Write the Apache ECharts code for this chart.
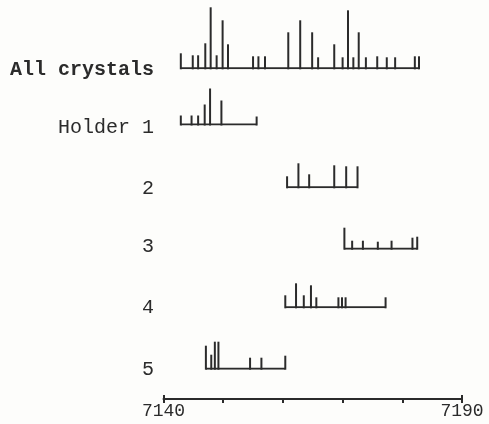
<!DOCTYPE html>
<html><head><meta charset="utf-8">
<script src="https://cdn.jsdelivr.net/npm/echarts@6/dist/echarts.min.js"></script>
<style>html,body{margin:0;padding:0;background:#fdfdfb}#c{width:489px;height:424px}</style>
</head><body><div id="c"></div><script>
// ---- data (wavelength, relative line height) ----
const rowLabels = ['All crystals', 'Holder 1', '2', '3', '4', '5'];
const allCrystals = [[7142.9,15],[7144.9,13],[7145.8,13],[7147.0,25],[7147.9,61],[7148.9,13],[7149.9,48],[7150.8,24],[7155.0,12],[7155.9,12],[7157.0,12],[7160.9,36],[7162.9,48],[7164.9,36],[7165.9,11],[7168.6,24],[7170.0,11],[7170.9,58],[7171.8,11],[7172.7,36],[7173.9,11],[7175.8,12],[7177.4,11],[7178.8,11],[7182.1,12],[7182.8,12]];
const holder1 = [[7142.9,9],[7144.7,9],[7145.8,9],[7146.9,20],[7147.8,36],[7149.7,24],[7155.6,8]];
const holder2 = [[7160.7,11],[7162.6,24],[7164.4,13],[7168.6,22],[7170.6,21],[7172.5,21]];
const holder3 = [[7170.3,21],[7171.6,8],[7173.4,8],[7175.9,7],[7178.2,8],[7181.7,11],[7182.5,12]];
const holder4 = [[7160.4,12],[7162.2,24],[7163.5,12],[7164.7,22],[7165.6,10],[7169.3,10],[7169.9,10],[7170.5,10],[7177.2,10]];
const holder5 = [[7147.1,23],[7148.0,14],[7148.6,27],[7149.2,27],[7154.5,11],[7156.4,11],[7160.4,13]];
const xMin = 7140, xMax = 7190, xInterval = 10;
const axisLabelValues = [7140, 7190];

// ---- layout / style ----
const rows = [allCrystals, holder1, holder2, holder3, holder4, holder5];
const baselines = [68.3, 124.5, 187.3, 248.7, 307.3, 368.7];
const labelY = [70, 128, 189, 247, 308, 370];
const rowH = 64;
const gridLeft = 163.5, gridRight = 27;
const ink = '#2b2b2b';
const mono = '"Liberation Mono", "DejaVu Sans Mono", monospace';

const grid = [], xAxis = [], yAxis = [], series = [], graphic = [];
rows.forEach((data, i) => {
  grid.push({left: gridLeft, right: gridRight, top: baselines[i] - rowH, height: rowH});
  xAxis.push({type: 'value', gridIndex: i, min: xMin, max: xMax, show: false});
  yAxis.push({type: 'value', gridIndex: i, min: 0, max: rowH, show: false});
  const xs = data.map(d => d[0]);
  series.push({
    type: 'line', xAxisIndex: i, yAxisIndex: i, symbol: 'none', silent: true,
    data: [[Math.min(...xs), 0], [Math.max(...xs), 0]],
    lineStyle: {color: ink, width: 2}
  });
  series.push({
    type: 'custom', xAxisIndex: i, yAxisIndex: i, silent: true, clip: false,
    encode: {x: 0, y: 1}, data: data,
    renderItem: function (params, api) {
      const x = api.value(0), h = api.value(1);
      const p0 = api.coord([x, 0]), p1 = api.coord([x, h]);
      return {type: 'line', shape: {x1: p0[0], y1: p0[1] + 1, x2: p1[0], y2: p1[1]},
              style: {stroke: ink, lineWidth: 2}};
    }
  });
  graphic.push({
    type: 'text', x: 154, y: labelY[i],
    style: {text: rowLabels[i], fill: ink, align: 'right', verticalAlign: 'middle',
            font: (i === 0 ? 'bold ' : '') + '20px ' + mono}
  });
});
// bottom wavelength axis
const ag = grid.length;
grid.push({left: gridLeft, right: gridRight, top: 395, height: 4});
xAxis.push({
  type: 'value', gridIndex: ag, position: 'bottom', min: xMin, max: xMax, interval: xInterval,
  axisLine: {show: true, lineStyle: {color: ink, width: 2}},
  axisTick: {show: true, length: 4, lineStyle: {color: ink, width: 2}},
  splitLine: {show: false},
  axisLabel: {margin: 3, color: ink, fontFamily: mono, fontSize: 18,
              formatter: v => axisLabelValues.includes(v) ? String(v) : ''}
});
xAxis.push({
  type: 'value', gridIndex: ag, position: 'top', min: xMin, max: xMax, interval: xMax - xMin,
  axisLine: {show: false}, axisLabel: {show: false}, splitLine: {show: false},
  axisTick: {show: true, inside: true, length: 4, lineStyle: {color: ink, width: 2}}
});
yAxis.push({type: 'value', gridIndex: ag, show: false});
series.push({type: 'line', xAxisIndex: xAxis.length - 2, yAxisIndex: ag, data: [], symbol: 'none'});

const chart = echarts.init(document.getElementById('c'), null, {renderer: 'canvas'});
chart.setOption({backgroundColor: '#fdfdfb', animation: false, grid, xAxis, yAxis, series, graphic});
</script></body></html>
